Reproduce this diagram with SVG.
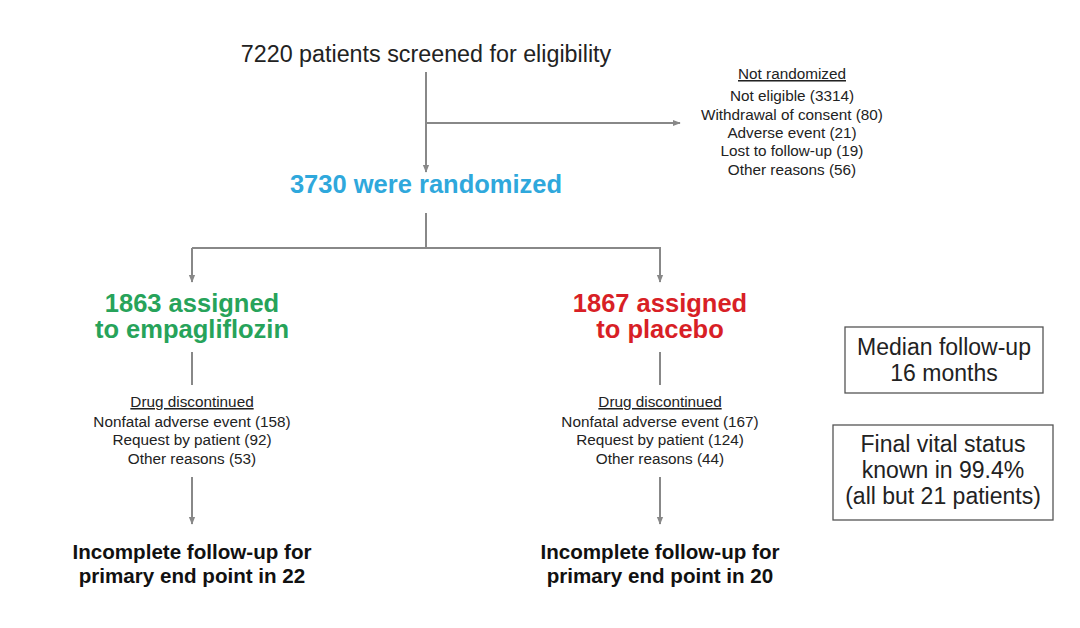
<svg xmlns="http://www.w3.org/2000/svg" width="1080" height="628" viewBox="0 0 1080 628">
<defs>
<marker id="ah" viewBox="0 0 10 10" refX="9" refY="5" markerWidth="4" markerHeight="4" orient="auto" markerUnits="strokeWidth">
<path d="M0,1 L10,5 L0,9 z" fill="#888"/>
</marker>
<style>
text{font-family:"Liberation Sans",Arial,sans-serif;text-anchor:middle}
.title{font-size:23.3px;fill:#222}
.blue{font-size:25.5px;font-weight:bold;fill:#2fa8dc}
.green{font-size:25.5px;font-weight:bold;fill:#27a35a}
.red{font-size:25.5px;font-weight:bold;fill:#d81f26}
.small{font-size:15.3px;fill:#222}
.out{font-size:20.6px;font-weight:bold;fill:#111}
.box{font-size:23px;fill:#222}
.ln{stroke:#888;stroke-width:2;fill:none}
.arr{stroke:#888;stroke-width:2;fill:none;marker-end:url(#ah)}
.rect{fill:#fff;stroke:#555;stroke-width:1.3}
</style>
</defs>
<rect width="1080" height="628" fill="#fff"/>
<g id="connectors">
<path class="arr" d="M426,72 V172"/>
<path class="arr" d="M426,123 H680"/>
<path class="ln" d="M426,213 V248"/>
<path class="arr" d="M192,248 V282"/>
<path class="arr" d="M192,248 H660 V282"/>
<path class="ln" d="M192,352 V385"/>
<path class="ln" d="M660,352 V385"/>
<path class="arr" d="M192,477 V524"/>
<path class="arr" d="M660,477 V524"/>
</g>
<g id="screened">
<text class="title" x="426" y="62">7220 patients screened for eligibility</text>
</g>
<g id="not-randomized">
<text class="small" x="792" y="79" text-decoration="underline">Not randomized</text>
<text class="small" x="792" y="101">Not eligible (3314)</text>
<text class="small" x="792" y="119.5">Withdrawal of consent (80)</text>
<text class="small" x="792" y="138">Adverse event (21)</text>
<text class="small" x="792" y="156">Lost to follow-up (19)</text>
<text class="small" x="792" y="174.5">Other reasons (56)</text>
</g>
<g id="randomized">
<text class="blue" x="426" y="193">3730 were randomized</text>
</g>
<g id="empagliflozin">
<text class="green" x="192" y="312">1863 assigned</text>
<text class="green" x="192" y="338">to empagliflozin</text>
</g>
<g id="placebo">
<text class="red" x="660" y="312">1867 assigned</text>
<text class="red" x="660" y="338">to placebo</text>
</g>
<g id="discontinued-empa">
<text class="small" x="192" y="407" text-decoration="underline">Drug discontinued</text>
<text class="small" x="192" y="427">Nonfatal adverse event (158)</text>
<text class="small" x="192" y="445">Request by patient (92)</text>
<text class="small" x="192" y="464">Other reasons (53)</text>
</g>
<g id="discontinued-placebo">
<text class="small" x="660" y="407" text-decoration="underline">Drug discontinued</text>
<text class="small" x="660" y="427">Nonfatal adverse event (167)</text>
<text class="small" x="660" y="445">Request by patient (124)</text>
<text class="small" x="660" y="464">Other reasons (44)</text>
</g>
<g id="incomplete-empa">
<text class="out" x="192" y="559">Incomplete follow-up for</text>
<text class="out" x="192" y="583">primary end point in 22</text>
</g>
<g id="incomplete-placebo">
<text class="out" x="660" y="559">Incomplete follow-up for</text>
<text class="out" x="660" y="583">primary end point in 20</text>
</g>
<g id="median">
<rect class="rect" x="845" y="327" width="198" height="66"/>
<text class="box" x="944" y="355">Median follow-up</text>
<text class="box" x="944" y="381">16 months</text>
</g>
<g id="vital">
<rect class="rect" x="833" y="425" width="220" height="95"/>
<text class="box" x="943" y="452">Final vital status</text>
<text class="box" x="943" y="478">known in 99.4%</text>
<text class="box" x="943" y="504">(all but 21 patients)</text>
</g>
</svg>
